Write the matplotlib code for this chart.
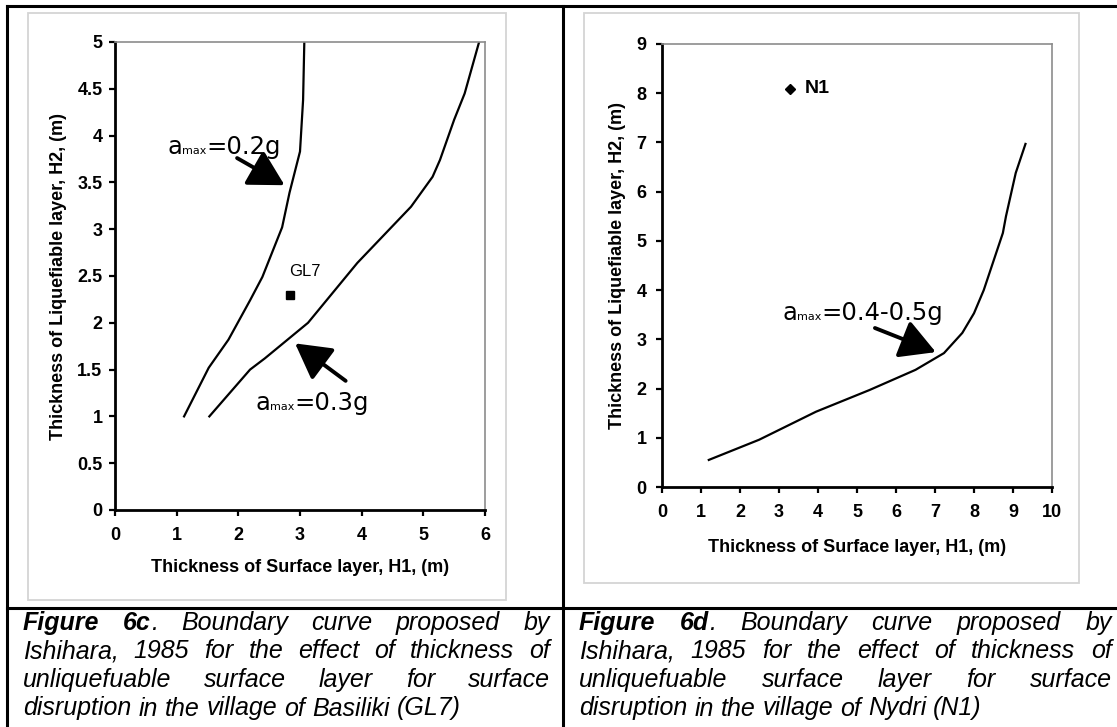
import matplotlib
matplotlib.use("Agg")
import matplotlib.pyplot as plt
from matplotlib.lines import Line2D
from matplotlib.patches import Rectangle

plt.rcParams['font.family'] = ['Liberation Sans', 'DejaVu Sans']

# ---------------- data ----------------
# Figure 6c (Basiliki)
h1_02g = [1.12, 1.52, 1.84, 2.19, 2.39, 2.71, 2.83, 3.00, 3.05, 3.07]
h2_02g = [1.00, 1.52, 1.82, 2.24, 2.49, 3.02, 3.39, 3.83, 4.38, 5.00]
h1_03g = [1.53, 2.19, 2.43, 3.13, 3.93, 4.80, 5.15, 5.27, 5.50, 5.67, 5.93]
h2_03g = [1.00, 1.50, 1.62, 2.00, 2.64, 3.24, 3.56, 3.74, 4.17, 4.45, 5.06]
gl7_h1 = [2.83]
gl7_h2 = [2.30]
xticks_c = [0, 1, 2, 3, 4, 5, 6]
yticks_c = [0, 0.5, 1, 1.5, 2, 2.5, 3, 3.5, 4, 4.5, 5]
yticklabels_c = ["0", "0.5", "1", "1.5", "2", "2.5", "3", "3.5", "4", "4.5", "5"]

# Figure 6d (Nydri)
h1_045g = [1.20, 2.49, 3.95, 5.32, 6.50, 7.23, 7.70, 8.00, 8.25, 8.74, 8.82, 9.07, 9.32]
h2_045g = [0.55, 0.96, 1.53, 1.97, 2.38, 2.72, 3.13, 3.53, 4.00, 5.16, 5.50, 6.38, 6.97]
n1_h1 = [3.28]
n1_h2 = [8.09]
xticks_d = [0, 1, 2, 3, 4, 5, 6, 7, 8, 9, 10]
yticks_d = [0, 1, 2, 3, 4, 5, 6, 7, 8, 9]

xlabel = "Thickness of Surface layer, H1, (m)"
ylabel = "Thickness of Liquefiable layer, H2, (m)"

caption_c = ["Figure 6c. Boundary curve proposed by",
             "Ishihara, 1985 for the effect of thickness of",
             "unliquefuable surface layer for surface",
             "disruption in the village of Basiliki (GL7)"]
caption_d = ["Figure 6d. Boundary curve proposed by",
             "Ishihara, 1985 for the effect of thickness of",
             "unliquefuable surface layer for surface",
             "disruption in the village of Nydri (N1)"]
caption_bold_c = "Figure 6c"
caption_bold_d = "Figure 6d"

# ---------------- figure ----------------
W, H = 1117, 727
fig = plt.figure(figsize=(W / 100, H / 100), dpi=100)


def fx(px):
    return px / W


def fy(py):
    return 1 - py / H


# table borders
for (xa, ya, xb, yb) in [(7, 5.5, 1117, 5.5), (7, 5.5, 7, 727), (563, 5.5, 563, 727),
                         (7, 608, 1117, 608)]:
    fig.add_artist(Line2D([fx(xa), fx(xb)], [fy(ya), fy(yb)], color='black', lw=2.2,
                          solid_capstyle='projecting'))

# light gray chart frames
for (x0, y0, x1, y1) in [(28, 13, 506, 600), (584, 13, 1079, 583)]:
    fig.add_artist(Rectangle((fx(x0), fy(y1)), fx(x1) - fx(x0), fy(y0) - fy(y1),
                             fill=False, edgecolor='#d4d4d4', lw=1.3))

axL = fig.add_axes([fx(115), fy(510), (485 - 115) / W, (510 - 42) / H])
axR = fig.add_axes([fx(662), fy(487), (1052 - 662) / W, (487 - 44) / H])


def style_axes(ax, ypad):
    for s in ['left', 'bottom']:
        ax.spines[s].set_linewidth(2.0)
        ax.spines[s].set_color('black')
    for s in ['top', 'right']:
        ax.spines[s].set_linewidth(1.2)
        ax.spines[s].set_color('#8c8c8c')
    ax.tick_params(direction='out', length=4, width=1.6, labelsize=13)
    ax.tick_params(axis='x', pad=8)
    ax.tick_params(axis='y', pad=ypad)
    for lab in ax.get_xticklabels() + ax.get_yticklabels():
        lab.set_fontweight('bold')


# ---- left chart ----
axL.plot(h1_02g, h2_02g, color='black', lw=1.6)
axL.plot(h1_03g, h2_03g, color='black', lw=1.6)
axL.plot(gl7_h1, gl7_h2, ls='none', marker='s', ms=6, color='black')
axL.text(2.83, 2.55, "GL7", fontsize=12, va='center', ha='left')
axL.set_xlim(0, 6)
axL.set_ylim(0, 5)
axL.set_xticks(xticks_c)
axL.set_yticks(yticks_c)
axL.set_yticklabels(yticklabels_c)
style_axes(axL, 5)
axL.set_xlabel(xlabel, fontsize=13, fontweight='bold')
axL.set_ylabel(ylabel, fontsize=13, fontweight='bold')
axL.xaxis.set_label_coords(0.5, -(568 - 510) / 468)
axL.yaxis.set_label_coords((59 - 115) / 370, 0.5)
axL.xaxis.label.set_va('center')
axL.yaxis.label.set_va('center')

# ---- right chart ----
axR.plot(h1_045g, h2_045g, color='black', lw=1.6)
axR.plot(n1_h1, n1_h2, ls='none', marker='D', ms=5, color='black')
axR.text(3.67, 8.09, "N1", fontsize=14, fontweight='bold', va='center', ha='left')
axR.set_xlim(0, 10)
axR.set_ylim(0, 9)
axR.set_xticks(xticks_d)
axR.set_yticks(yticks_d)
style_axes(axR, 7)
axR.set_xlabel(xlabel, fontsize=13, fontweight='bold')
axR.set_ylabel(ylabel, fontsize=13, fontweight='bold')
axR.xaxis.set_label_coords(0.5, -(548 - 487) / 443)
axR.yaxis.set_label_coords((618 - 662) / 390, 0.5)
axR.xaxis.label.set_va('center')
axR.yaxis.label.set_va('center')

arrow_kw = dict(arrowstyle='-|>,head_length=0.9,head_width=0.5', lw=2.8, color='black',
                shrinkA=0, shrinkB=0, mutation_scale=24)
axL.annotate("", xy=(2.75, 3.47), xytext=(1.98, 3.76), arrowprops=arrow_kw)
axL.annotate("", xy=(2.92, 1.78), xytext=(3.74, 1.38), arrowprops=arrow_kw)
axR.annotate("", xy=(7.02, 2.74), xytext=(5.46, 3.23), arrowprops=arrow_kw)

fig.canvas.draw()
renderer = fig.canvas.get_renderer()


def rich_label(ax, x, y, pieces):
    offset = 0.0
    for txt, size in pieces:
        t = ax.annotate(txt, xy=(x, y), xytext=(offset, 0), textcoords='offset points',
                        fontsize=size, va='baseline', ha='left', family='DejaVu Sans')
        w = t.get_window_extent(renderer).width
        offset += w * 72 / fig.dpi


rich_label(axL, 0.85, 3.80, [("a", 17.5), ("max", 8), ("=0.2g", 17.5)])
rich_label(axL, 2.28, 1.07, [("a", 17.5), ("max", 8), ("=0.3g", 17.5)])
rich_label(axR, 3.08, 3.39, [("a", 17.5), ("max", 8), ("=0.4-0.5g", 17.5)])

# ---- captions (justified) ----
CAP_FS = 18


def measure(t):
    return t.get_window_extent(renderer).width


def draw_caption(lines, bold_prefix, x0, x1, baselines):
    bold_words = bold_prefix.split()
    tmp = fig.text(0, 0, "n n", fontsize=CAP_FS, style='italic')
    tmp2 = fig.text(0, 0, "nn", fontsize=CAP_FS, style='italic')
    space = measure(tmp) - measure(tmp2)
    tmp.remove()
    tmp2.remove()
    for i, (line, yb) in enumerate(zip(lines, baselines)):
        words = line.split()
        word_arts = []
        for j, w in enumerate(words):
            segs = []
            if i == 0 and j < len(bold_words) and w.startswith(bold_words[j]):
                segs.append((bold_words[j], 'bold'))
                rest = w[len(bold_words[j]):]
                if rest:
                    segs.append((rest, 'normal'))
            else:
                segs.append((w, 'normal'))
            arts = []
            for s, wt in segs:
                t = fig.text(0, fy(yb), s, fontsize=CAP_FS, style='italic', fontweight=wt,
                             va='baseline', ha='left')
                arts.append((t, measure(t)))
            word_arts.append(arts)
        widths = [sum(a[1] for a in arts) for arts in word_arts]
        last = (i == len(lines) - 1)
        if last or len(words) == 1:
            gap = space
        else:
            gap = (x1 - x0 - sum(widths)) / (len(words) - 1)
        x = x0
        for arts, wsum in zip(word_arts, widths):
            xx = x
            for t, w in arts:
                t.set_x(fx(xx))
                xx += w
            x += wsum + gap


baselines = [630, 658.5, 687, 715.5]
draw_caption(caption_c, caption_bold_c, 23, 550, baselines)
draw_caption(caption_d, caption_bold_d, 579, 1112, baselines)

fig.savefig("out.png", dpi=100)
